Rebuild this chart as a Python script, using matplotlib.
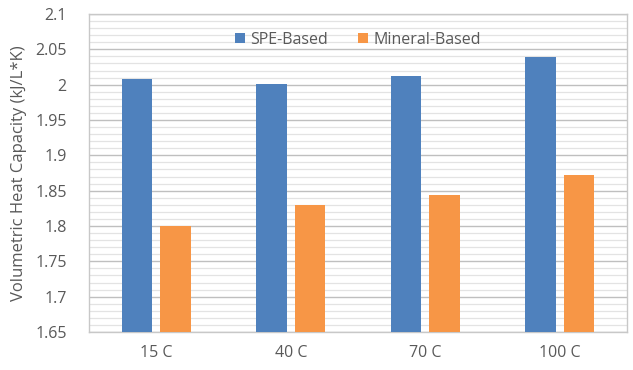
import numpy as np
import matplotlib
matplotlib.use("Agg")
import matplotlib.pyplot as plt
from matplotlib.ticker import MultipleLocator

categories = ["15 C", "40 C", "70 C", "100 C"]
spe_based = [2.008, 2.001, 2.012, 2.039]
mineral_based = [1.800, 1.830, 1.844, 1.872]
y_ticks = [1.65, 1.7, 1.75, 1.8, 1.85, 1.9, 1.95, 2.0, 2.05, 2.1]
y_tick_labels = ["1.65", "1.7", "1.75", "1.8", "1.85", "1.9", "1.95", "2", "2.05", "2.1"]

plt.rcParams['font.family'] = ['Open Sans', 'DejaVu Sans']
text_color = "#595959"

fig = plt.figure(figsize=(6.33, 3.70), dpi=100)
ax = fig.add_axes([0.1406, 0.1027, 0.85, 0.8595])

x = np.arange(len(categories))
width = 0.224
offset = 0.143
ax.bar(x - offset, spe_based, width, color="#4F81BD", label="SPE-Based", zorder=3)
ax.bar(x + offset, mineral_based, width, color="#F79646", label="Mineral-Based", zorder=3)

ax.set_xlim(-0.5, 3.5)
ax.set_ylim(1.65, 2.1)
ax.set_yticks(y_ticks)
ax.set_yticklabels(y_tick_labels)
ax.yaxis.set_minor_locator(MultipleLocator(0.01))
ax.set_xticks(x)
ax.set_xticklabels(categories)

ax.grid(axis="y", which="major", color="#BFBFBF", linewidth=1.0, zorder=0)
ax.grid(axis="y", which="minor", color="#E3E3E3", linewidth=0.9, zorder=0)
ax.set_axisbelow(True)

for side in ["top", "bottom", "left", "right"]:
    ax.spines[side].set_color("#C8C8C8")
    ax.spines[side].set_linewidth(1.0)

ax.tick_params(axis="both", which="both", length=0, colors=text_color, labelsize=11.5)
ax.tick_params(axis="y", pad=16)
ax.tick_params(axis="x", pad=9)

ax.set_ylabel("Volumetric Heat Capacity (kJ/L*K)", color=text_color, fontsize=12, labelpad=6)

leg = ax.legend(loc="upper center", bbox_to_anchor=(0.5, 0.99), ncol=2, frameon=False,
                fontsize=11.5, handlelength=0.6, handleheight=0.6, handletextpad=0.35,
                columnspacing=1.9)
for t in leg.get_texts():
    t.set_color(text_color)

fig.savefig("out.png", dpi=100)
